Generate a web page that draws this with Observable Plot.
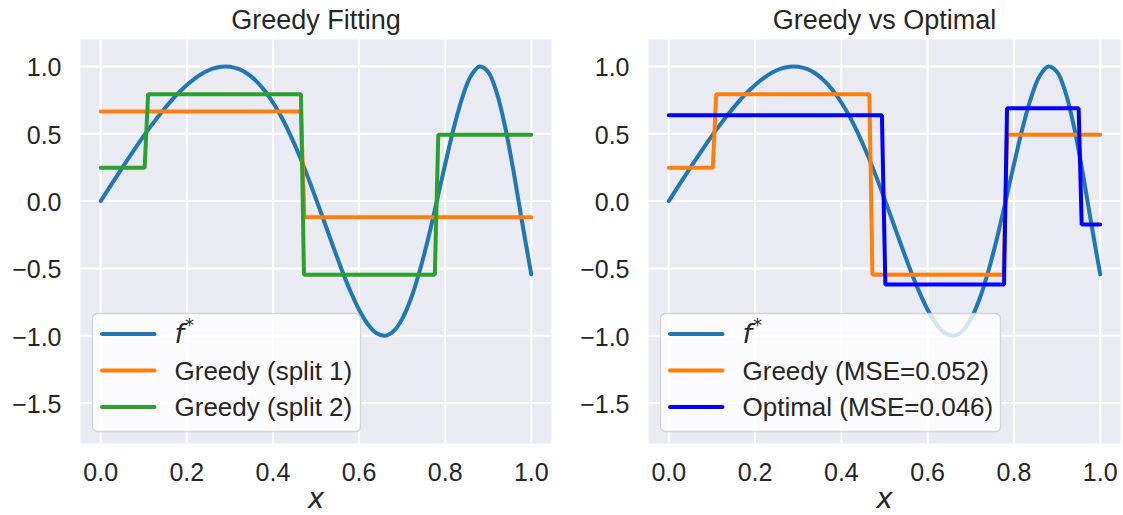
<!DOCTYPE html>
<html><head><meta charset="utf-8">
<script src="https://cdn.jsdelivr.net/npm/d3@7"></script>
<script src="https://cdn.jsdelivr.net/npm/@observablehq/plot@0.6"></script>
<style>
body{margin:0;background:#fff;}
#wrap{display:flex;width:1123px;height:515px;}
#wrap svg{display:block;overflow:visible;}
</style></head><body><div id="wrap"></div>
<script>
// ---- data ----
const xGrid = [0,0.02,0.04,0.06,0.08,0.10,0.12,0.14,0.16,0.18,0.20,0.22,0.24,0.26,0.28,0.30,0.32,0.34,0.36,0.38,0.40,0.42,0.44,0.46,0.48,0.50,0.52,0.54,0.56,0.58,0.60,0.62,0.64,0.66,0.68,0.70,0.72,0.74,0.76,0.78,0.80,0.82,0.84,0.86,0.88,0.90,0.92,0.94,0.96,0.98,1.00];
const fStar = [0,0.0999,0.1990,0.2966,0.3918,0.4839,0.5718,0.6547,0.7315,0.8011,0.8624,0.9140,0.9548,0.9834,0.9981,0.9979,0.9814,0.9474,0.8949,0.8233,0.7323,0.6222,0.4934,0.3478,0.1875,0.0166,-0.1607,-0.3389,-0.5111,-0.6700,-0.8066,-0.9128,-0.9797,-0.9997,-0.9665,-0.8763,-0.7291,-0.5284,-0.2845,-0.0104,0.2733,0.5427,0.7708,0.9309,0.9989,0.9580,0.8024,0.5412,0.1997,-0.1802,-0.5440];

const greedy1X = [0,0.465,0.473,1.0];
const greedy1Y = [0.665,0.665,-0.120,-0.120];
const greedy2X = [0,0.102,0.110,0.465,0.472,0.776,0.784,1.0];
const greedy2Y = [0.247,0.247,0.794,0.794,-0.546,-0.546,0.493,0.493];
const optimalX = [0,0.494,0.502,0.777,0.784,0.950,0.957,1.0];
const optimalY = [0.638,0.638,-0.620,-0.620,0.689,0.689,-0.174,-0.174];

const xTicks = [0,0.2,0.4,0.6,0.8,1.0];
const yTicks = [-1.5,-1.0,-0.5,0.0,0.5,1.0];
const titles = ["Greedy Fitting","Greedy vs Optimal"];
const legendLeft = ["f*","Greedy (split 1)","Greedy (split 2)"];
const legendRight = ["f*","Greedy (MSE=0.052)","Optimal (MSE=0.046)"];

const C_F = "#1f77b4", C_OR = "#ff7f0e", C_GR = "#2ca02c", C_OPT = "#0000ff";
const TXT = "#262626";

const zip = (xa, ya) => xa.map((x, i) => ({x, y: ya[i]}));
const fData = zip(xGrid, fStar);

function panel({width, ml, mr, title, series, legend, legendW}) {
  const H = 515, mt = 39, mb = 72;
  const marks = [
    Plot.frame({fill: "#EAEAF2", stroke: null}),
    Plot.gridX(xTicks, {stroke: "white", strokeOpacity: 1, strokeWidth: 2}),
    Plot.gridY(yTicks, {stroke: "white", strokeOpacity: 1, strokeWidth: 2}),
    Plot.line(fData, {x: "x", y: "y", stroke: C_F, strokeWidth: 4, curve: "catmull-rom", strokeLinecap: "round", strokeLinejoin: "round"}),
    ...series.map(s => Plot.line(s.data, {x: "x", y: "y", stroke: s.color, strokeWidth: 4, strokeLinecap: "round", strokeLinejoin: "miter"})),
    Plot.axisX(xTicks, {tickSize: 0, tickPadding: 20, tickFormat: d3.format(".1f"), label: null, fontSize: 25, fill: TXT}),
    Plot.axisY(yTicks, {tickSize: 0, tickPadding: 19, tickFormat: d3.format(".1f"), label: null, fontSize: 25, fill: TXT, dy: 2}),
    Plot.text([title], {text: d => d, frameAnchor: "top", lineAnchor: "bottom", dy: -11, fontSize: 27, fill: TXT}),
    Plot.text(["x"], {text: d => d, frameAnchor: "bottom", lineAnchor: "bottom", dy: 64, fontSize: 28, fontStyle: "italic", fontFamily: "DejaVu Sans", fill: TXT})
  ];
  const svg = Plot.plot({
    width, height: H, marginLeft: ml, marginRight: mr, marginTop: mt, marginBottom: mb,
    x: {domain: [-0.047, 1.047], axis: null},
    y: {domain: [-1.8, 1.2], axis: null},
    style: {fontFamily: "'Liberation Sans', Arial, sans-serif", fontSize: "24px", color: TXT, background: "transparent", overflow: "visible"},
    marks
  });
  // legend (matplotlib style, drawn on top)
  const g = d3.select(svg).append("g").attr("text-anchor", "start");
  const bx = ml + 12.5, by = 313.5, bh = 118;
  g.append("rect").attr("x", bx).attr("y", by).attr("width", legendW).attr("height", bh)
    .attr("rx", 5).attr("fill", "white").attr("fill-opacity", 0.8)
    .attr("stroke", "#cccccc").attr("stroke-opacity", 0.8).attr("stroke-width", 1.3);
  const colors = [C_F, ...series.map(s => s.color)];
  const rowY = [334, 370.5, 407];
  legend.forEach((lab, i) => {
    const y = rowY[i];
    g.append("line").attr("x1", bx + 9.5).attr("x2", bx + 62).attr("y1", y).attr("y2", y)
      .attr("stroke", colors[i]).attr("stroke-width", 4).attr("stroke-linecap", "round");
    const t = g.append("text").attr("x", bx + 82).attr("y", y + 9)
      .attr("text-anchor", "start")
      .attr("fill", TXT).attr("font-size", 26)
      .attr("font-family", "'Liberation Sans', Arial, sans-serif");
    if (lab === "f*") {
      t.append("tspan").attr("font-family", "DejaVu Sans").attr("font-style", "italic").attr("font-size", 27).text("f");
      t.append("tspan").attr("font-family", "DejaVu Sans").attr("font-size", 18).attr("dy", -12).attr("dx", 1).text("*");
    } else {
      t.text(lab);
    }
  });
  return svg;
}

const wrap = document.getElementById("wrap");
wrap.appendChild(panel({
  width: 561, ml: 80, mr: 10, title: titles[0],
  series: [{data: zip(greedy1X, greedy1Y), color: C_OR}, {data: zip(greedy2X, greedy2Y), color: C_GR}],
  legend: legendLeft, legendW: 268
}));
wrap.appendChild(panel({
  width: 562, ml: 87, mr: 3, title: titles[1],
  series: [{data: zip(greedy2X, greedy2Y), color: C_OR}, {data: zip(optimalX, optimalY), color: C_OPT}],
  legend: legendRight, legendW: 340
}));
</script></body></html>
